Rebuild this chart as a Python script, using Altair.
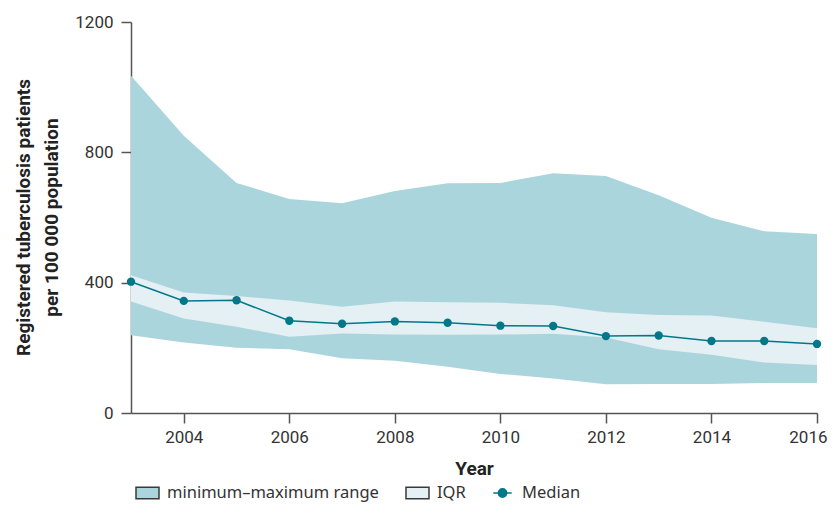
import altair as alt
import pandas as pd

# ---- data ----
years = list(range(2003, 2017))
max_vals = [1035, 851, 706, 657, 644, 681, 705, 706, 736, 727, 668, 599, 558, 549]
q3_vals = [423, 370, 359, 345, 326, 342, 340, 338, 331, 309, 301, 299, 280, 260]
median_vals = [403, 344, 346, 283, 274, 281, 277, 268, 267, 236, 238, 221, 221, 212]
q1_vals = [342, 290, 265, 234, 244, 241, 240, 241, 243, 232, 196, 179, 155, 147]
min_vals = [239, 216, 200, 196, 168, 160, 142, 120, 106, 88, 89, 89, 92, 92]
series_names = ["minimum\u2013maximum range", "IQR", "Median"]
x_ticks = [2004, 2006, 2008, 2010, 2012, 2014, 2016]
y_ticks = [0, 400, 800, 1200]

df = pd.DataFrame({"year": years, "vmin": min_vals, "q1": q1_vals,
                   "median": median_vals, "q3": q3_vals, "vmax": max_vals})
legend_df = pd.DataFrame({"series": series_names, "year": [2003] * 3, "v": [None] * 3})

# ---- styles ----
C_RANGE = "#abd5dc"
C_IQR = "#e4f0f3"
C_MED = "#00788a"
AXIS_COL = "#555555"
TEXT_COL = "#333333"
NARROW = "Roboto, Liberation Sans, sans-serif"
LEG_FONT = "Noto Sans, Open Sans, sans-serif"

rect_path = "M-1,-0.5H1V0.5H-1Z"
med_path = "M-0.8,0H0.8M-0.36,0A0.36,0.36 0 1,1 0.36,0A0.36,0.36 0 1,1 -0.36,0Z"

x_axis = alt.Axis(values=x_ticks, format="d", title="Year", grid=False,
                  domainColor=AXIS_COL, domainWidth=1.5, tickColor=AXIS_COL, tickWidth=1.5,
                  tickSize=10, labelPadding=6, labelFont=NARROW, labelFontSize=17,
                  labelColor=TEXT_COL, labelFlush=True, labelFlushOffset=10,
                  titleFont=NARROW, titleFontSize=19, titleFontWeight="bold",
                  titleColor="#222222", titleBaseline="alphabetic", titleY=61)
y_axis = alt.Axis(values=y_ticks, format="d",
                  title=["Registered tuberculosis patients", "per 100 000 population"],
                  grid=False, domainColor=AXIS_COL, domainWidth=1.5, tickColor=AXIS_COL, tickWidth=1.5,
                  tickSize=10, labelPadding=8, labelFont=NARROW, labelFontSize=17,
                  labelColor=TEXT_COL, titleFont=NARROW, titleFontSize=19, titleFontWeight="bold",
                  titleColor="#222222", titleAngle=270, titleAlign="center",
                  titleBaseline="alphabetic", titleX=-102, titleY=195, titleLineHeight=28)

xs = alt.Scale(domain=[2003, 2016], nice=False, zero=False)
ys = alt.Scale(domain=[0, 1200], nice=False)

X = alt.X("year:Q", scale=xs, axis=x_axis)

range_area = alt.Chart(df).mark_area(color=C_RANGE, opacity=1).encode(
    x=X, y=alt.Y("vmin:Q", scale=ys, axis=y_axis), y2="vmax:Q")
iqr_area = alt.Chart(df).mark_area(color=C_IQR, opacity=1).encode(
    x=X, y=alt.Y("q1:Q", scale=ys, axis=y_axis), y2="q3:Q")
med_line = alt.Chart(df).mark_line(color=C_MED, strokeWidth=1.5).encode(
    x=X, y=alt.Y("median:Q", scale=ys, axis=y_axis))
med_pts = alt.Chart(df).mark_circle(color=C_MED, size=70, opacity=1).encode(
    x=X, y=alt.Y("median:Q", scale=ys, axis=y_axis))

leg = alt.Legend(title=None, orient="none", legendX=4, legendY=458, direction="horizontal",
                 columns=3, symbolSize=529, symbolStrokeWidth=1.5, symbolOpacity=1,
                 labelFont=LEG_FONT, labelFontSize=16.5, labelColor=TEXT_COL,
                 labelOffset=7, columnPadding=24, labelLimit=400)
legend_layer = alt.Chart(legend_df).mark_point(filled=True, opacity=1).encode(
    x=X,
    y=alt.Y("v:Q", scale=ys, axis=y_axis),
    fill=alt.Fill("series:N", scale=alt.Scale(domain=series_names, range=[C_RANGE, C_IQR, C_MED]), legend=leg),
    stroke=alt.Stroke("series:N", scale=alt.Scale(domain=series_names, range=["#3a3a3a", "#3a3a3a", C_MED]), legend=leg),
    shape=alt.Shape("series:N", scale=alt.Scale(domain=series_names, range=[rect_path, rect_path, med_path]), legend=leg),
)

chart = alt.layer(range_area, iqr_area, med_line, med_pts, legend_layer).properties(
    width=686, height=391,
    autosize=alt.AutoSizeParams(type="none"),
    padding={"left": 123, "top": 14, "right": 11, "bottom": 92},
).configure_view(stroke=None)

chart.save("out.html", embed_options={"renderer": "svg", "actions": False})
